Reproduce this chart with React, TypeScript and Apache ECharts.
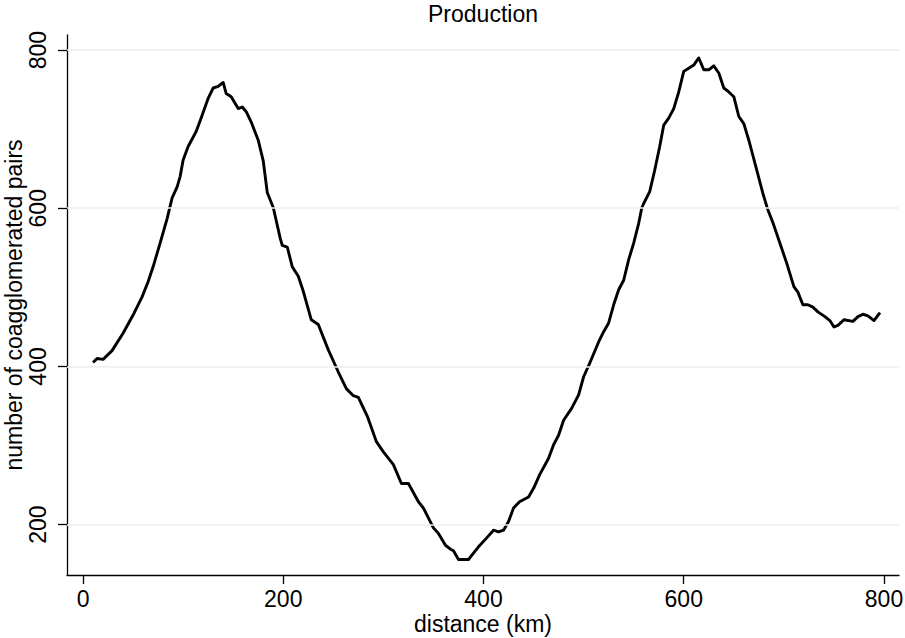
import React, { useEffect, useRef } from "react";
import * as echarts from "echarts";

const distanceKm = [
  10, 14, 20, 29, 40, 50, 59, 65, 70, 77, 84, 89, 94, 97, 100, 105, 113, 118, 125, 130,
  135, 140, 143, 148, 155, 159, 163, 168, 175, 180, 184, 190, 197, 199, 204, 209, 215, 220, 228, 235,
  245, 255, 263, 270, 275, 284, 293, 300, 310, 318, 325, 335, 340, 350, 355, 362, 367, 370, 375, 385,
  390, 395, 403, 410, 415, 420, 425, 430, 436, 445, 450, 456, 465, 470, 475, 480, 488, 495, 500, 506,
  515, 520, 525, 530, 535, 540, 545, 550, 555, 558, 560, 566, 571, 576, 580, 585, 590, 595, 600, 605,
  610, 615, 620, 625, 630, 635, 640, 645, 650, 655, 660, 665, 673, 679, 684, 689, 696, 703, 710, 714,
  719, 724, 729, 734, 741, 746, 750, 754, 760, 769, 774, 779, 784, 790, 796,
];

const pairCounts = [
  405, 410, 409, 420, 442, 465, 488, 507, 526, 556, 587, 613, 627, 640, 661, 678, 697, 714, 739, 752,
  754, 759, 745, 741, 726, 728, 722, 709, 686, 660, 620, 601, 562, 553, 551, 526, 514, 495, 459, 453,
  421, 393, 372, 363, 361, 337, 305, 292, 276, 252, 252, 229, 221, 196, 189, 174, 169, 167, 156, 156,
  164, 172, 183, 193, 191, 193, 204, 221, 229, 235, 246, 263, 284, 301, 313, 332, 347, 364, 387, 404,
  431, 444, 455, 478, 497, 509, 535, 556, 581, 600, 606, 621, 648, 678, 705, 714, 726, 747, 773, 777,
  781, 790, 775, 775, 780, 771, 752, 747, 741, 716, 707, 686, 648, 619, 598, 582, 556, 530, 501, 494,
  478, 478, 475, 469, 463, 458, 450, 452, 459, 457, 463, 466, 464, 458, 468,
];

const xTicks = [0, 200, 400, 600, 800];
const yTicks = [200, 400, 600, 800];

const FONT = '"Liberation Sans", Arial, Helvetica, sans-serif';

export default function App() {
  const ref = useRef<HTMLDivElement | null>(null);

  useEffect(() => {
    document.body.style.margin = "0";
    if (!ref.current) return;
    const chart = echarts.init(ref.current, null, { renderer: "svg" });
    const points = distanceKm.map((d, i) => [d, pairCounts[i]]);
    chart.setOption({
      animation: false,
      backgroundColor: "#ffffff",
      textStyle: { fontFamily: FONT },
      grid: { left: 67, top: 35, right: 6, bottom: 63, containLabel: false, outerBoundsMode: "none" },
      graphic: [
        {
          type: "text",
          x: 483,
          y: 14,
          style: {
            text: "Production",
            font: `23px ${FONT}`,
            fill: "#000",
            align: "center",
            verticalAlign: "middle",
          },
        },
      ],
      xAxis: {
        type: "value",
        min: -16,
        max: 815,
        name: "distance (km)",
        nameLocation: "middle",
        nameGap: 37,
        nameMoveOverlap: false,
        nameTextStyle: { color: "#000", fontSize: 23, fontFamily: FONT },
        axisLine: { show: true, onZero: false, lineStyle: { color: "#000", width: 1.3 } },
        axisTick: { show: true, inside: false, length: 9, customValues: xTicks, lineStyle: { color: "#000", width: 1.3 } },
        axisLabel: { show: true, customValues: xTicks, color: "#000", fontSize: 23, fontFamily: FONT, margin: 12 },
        splitLine: { show: false },
      },
      yAxis: {
        type: "value",
        min: 136.4,
        max: 819,
        name: "number of coagglomerated pairs",
        nameLocation: "middle",
        nameGap: 42,
        nameRotate: 90,
        nameMoveOverlap: false,
        nameTextStyle: { color: "#000", fontSize: 23, fontFamily: FONT },
        axisLine: { show: true, onZero: false, lineStyle: { color: "#000", width: 1.3 } },
        axisTick: { show: true, inside: false, length: 9, customValues: yTicks, lineStyle: { color: "#000", width: 1.3 } },
        axisLabel: { show: true, customValues: yTicks, rotate: 90, color: "#000", fontSize: 23, fontFamily: FONT, margin: 18 },
        splitLine: { show: false },
      },
      series: [
        {
          type: "line",
          name: "grid",
          data: [],
          silent: true,
          z: 1,
          markLine: {
            silent: true,
            symbol: "none",
            label: { show: false },
            lineStyle: { color: "#e9f0f2", width: 1.5, type: "solid" },
            data: yTicks.map((v) => ({ yAxis: v })),
          },
        },
        {
          type: "line",
          name: "Production",
          data: points,
          showSymbol: false,
          symbol: "none",
          smooth: false,
          z: 3,
          lineStyle: { color: "#000", width: 2.9, join: "round" },
        },
      ],
    });
    return () => chart.dispose();
  }, []);

  return <div ref={ref} style={{ width: 905, height: 638 }} />;
}
